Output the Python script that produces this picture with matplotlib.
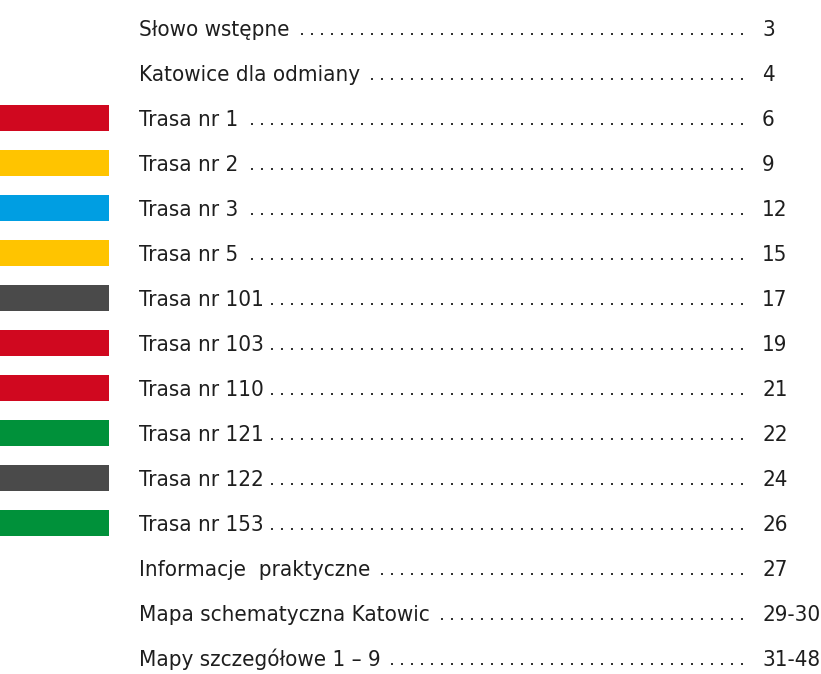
import matplotlib
matplotlib.use("Agg")
import matplotlib.pyplot as plt

# table of contents rows
titles = ['Słowo wstępne', 'Katowice dla odmiany', 'Trasa nr 1', 'Trasa nr 2',
          'Trasa nr 3', 'Trasa nr 5', 'Trasa nr 101', 'Trasa nr 103',
          'Trasa nr 110', 'Trasa nr 121', 'Trasa nr 122', 'Trasa nr 153',
          'Informacje  praktyczne', 'Mapa schematyczna Katowic',
          'Mapy szczegółowe 1 – 9']
pages = ['3', '4', '6', '9', '12', '15', '17', '19', '21', '22', '24', '26',
         '27', '29-30', '31-48']
route_colors = [None, None, '#d0081f', '#ffc400', '#009ee2', '#ffc400',
                '#4a4a4a', '#d0081f', '#d0081f', '#00913a', '#4a4a4a',
                '#00913a', None, None, None]

W, H = 821, 674
row_gap = 45.0      # px between rows
first_row = 28.0    # px from top to centre of first row

plt.rcParams['font.family'] = ['DejaVu Sans']
plt.rcParams['font.stretch'] = 'condensed'

fig = plt.figure(figsize=(W / 100, H / 100), dpi=100)
ax = fig.add_axes([0, 0, 1, 1])
ax.set_xlim(0, W)
ax.set_ylim((H - first_row) / row_gap, -first_row / row_gap)
ax.axis('off')

rows = list(range(len(titles)))

# colour bars on the left
for i, c in zip(rows, route_colors):
    if c:
        ax.barh(i, 109, height=26 / row_gap, left=0, color=c, linewidth=0)

text_x = 139
page_x = 762
dots_end = 742
base_off = 8 / row_gap
txt_color = '#1e1e1e'
fsize = 16

labels = []
for i, t, p in zip(rows, titles, pages):
    lab = ax.text(text_x, i + base_off, t, fontsize=fsize, color=txt_color,
                  ha='left', va='baseline', fontstretch='condensed')
    ax.text(page_x, i + base_off, p, fontsize=fsize, color=txt_color,
            ha='left', va='baseline', fontstretch='condensed')
    labels.append(lab)

fig.canvas.draw()
renderer = fig.canvas.get_renderer()
inv = ax.transData.inverted()

# dotted leaders on a common 10 px grid
for i, lab in zip(rows, labels):
    bb = lab.get_window_extent(renderer)
    x_end = inv.transform((bb.x1, 0))[0]
    xs = [x for x in range(dots_end, 0, -10) if x > x_end + 8]
    ax.scatter(xs, [i + base_off - 2 / row_gap] * len(xs), s=2.2, marker='s',
               color='#333333', linewidths=0)

fig.savefig('out.png', dpi=100, facecolor='white')
